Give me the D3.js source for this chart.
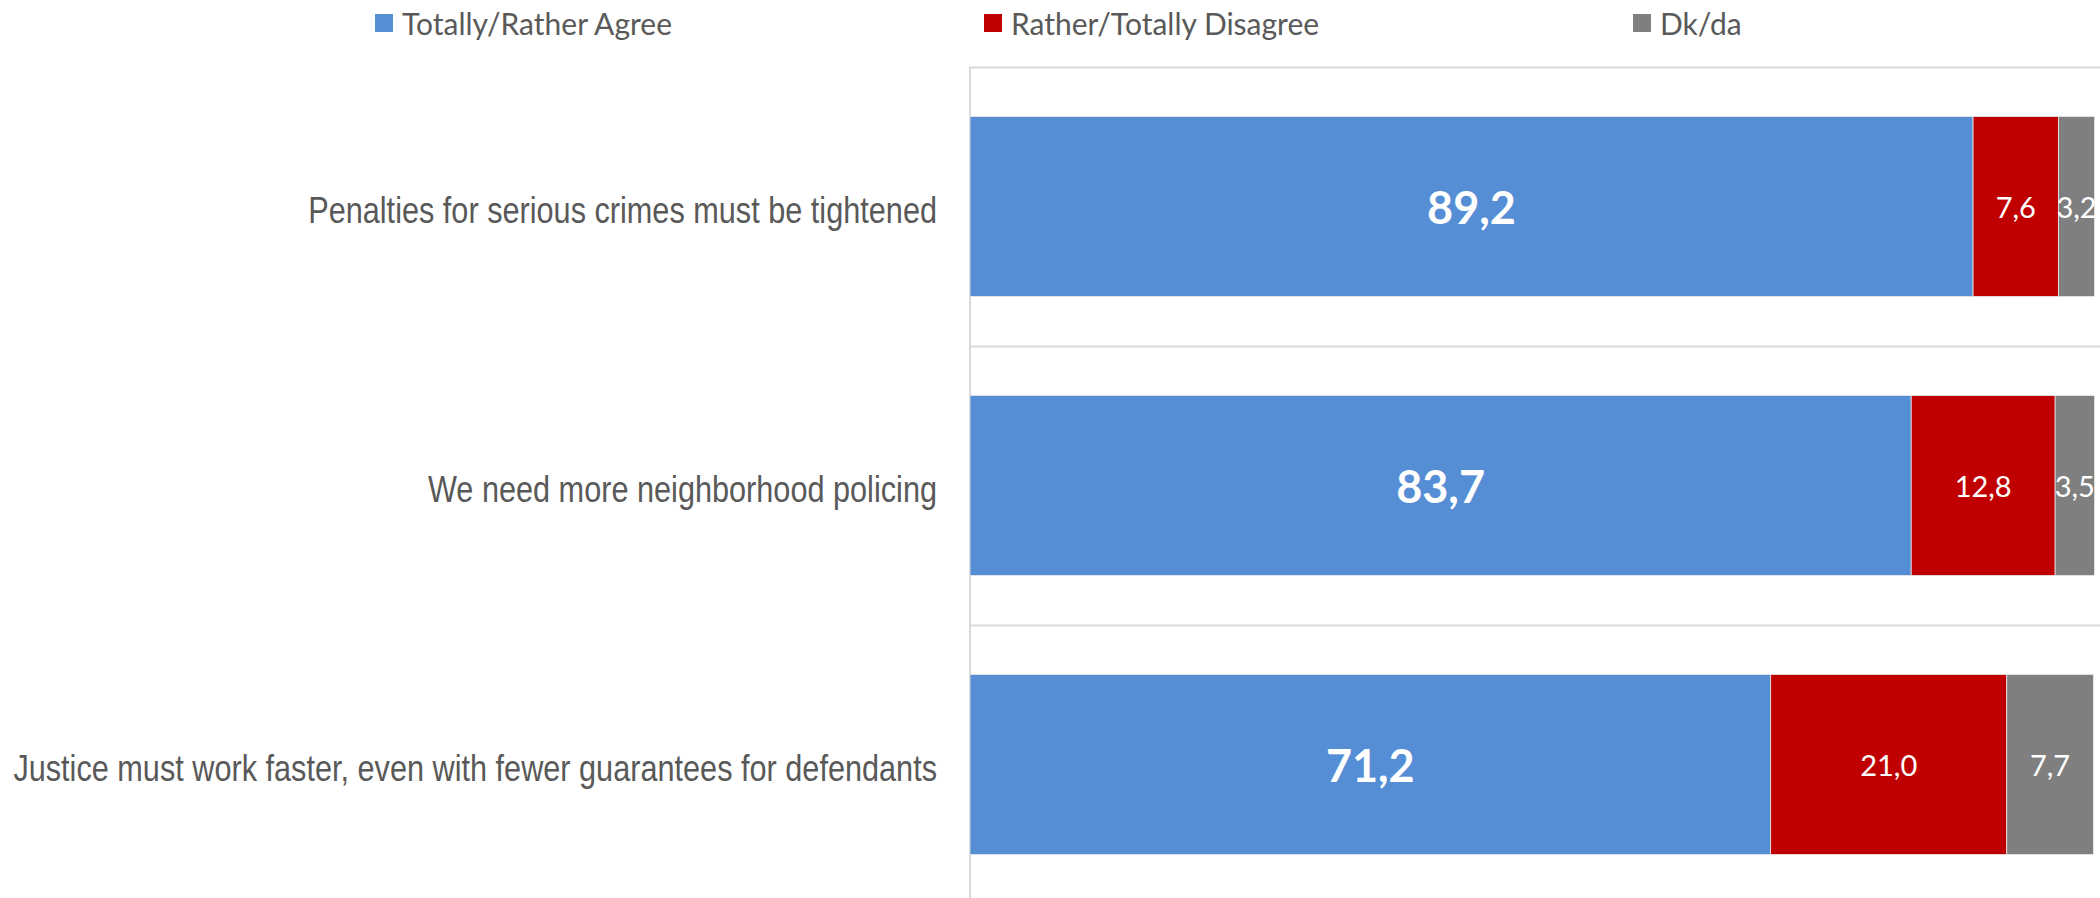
<!DOCTYPE html>
<html>
<head>
<meta charset="utf-8">
<script src="https://cdn.jsdelivr.net/npm/d3@7"></script>
<style>
  html, body { margin: 0; padding: 0; background: #fff; }
  svg { display: block; }
</style>
</head>
<body>
<div id="chart"></div>
<script>
// data
const categories = [
    "Penalties for serious crimes must be tightened",
    "We need more neighborhood policing",
    "Justice must work faster, even with fewer guarantees for defendants"
];
const seriesNames = ["Totally/Rather Agree", "Rather/Totally Disagree", "Dk/da"];
const agree = [89.2, 83.7, 71.2];
const disagree = [7.6, 12.8, 21.0];
const dkda = [3.2, 3.5, 7.7];

const colors = ["#558ED5", "#C00000", "#7F7F7F"];

const width = 2100, height = 898;
const plot = { left: 970, right: 2094.5, top: 67, bottom: 904 };

let svg = d3.select("#chart").append("svg")
    .attr("width", width).attr("height", height);

let rows = categories.map((c, i) => ({
    cat: c,
    [seriesNames[0]]: agree[i],
    [seriesNames[1]]: disagree[i],
    [seriesNames[2]]: dkda[i]
}));
let stacked = d3.stack().keys(seriesNames)(rows);

let x = d3.scaleLinear().domain([0, 100]).range([plot.left, plot.right]);
let y = d3.scaleBand().domain(categories)
    .range([plot.top, plot.bottom])
    .paddingInner(0.355).paddingOuter(0.1775);

// gridlines at the category boundaries
let step = y.step();
let bounds = d3.range(categories.length + 1).map(i => plot.top + i * step);
svg.append("g").selectAll("line").data(bounds).join("line")
    .attr("x1", plot.left).attr("x2", width)
    .attr("y1", d => d + 0.5).attr("y2", d => d + 0.5)
    .attr("stroke", "#d9d9d9").attr("stroke-width", 2);

// category axis line
svg.append("line")
    .attr("x1", plot.left).attr("x2", plot.left)
    .attr("y1", plot.top).attr("y2", height)
    .attr("stroke", "#d9d9d9").attr("stroke-width", 2);

// bars
let layers = svg.append("g").selectAll("g").data(stacked).join("g")
    .attr("fill", (d, i) => colors[i]);
layers.selectAll("rect").data(d => d).join("rect")
    .attr("x", d => x(d[0]))
    .attr("y", d => y(d.data.cat))
    .attr("width", d => x(d[1]) - x(d[0]))
    .attr("height", y.bandwidth())
    .attr("stroke", "#e8e8e8").attr("stroke-width", 0.8);

// value labels
let fmt = v => v.toFixed(1).replace(".", ",");
stacked.forEach((layer, li) => {
    svg.append("g").selectAll("text").data(layer).join("text")
        .attr("x", d => (x(d[0]) + x(d[1])) / 2)
        .attr("y", d => y(d.data.cat) + y.bandwidth() / 2)
        .attr("text-anchor", "middle")
        .attr("dominant-baseline", "central")
        .attr("fill", "#fff")
        .style("font-family", "Lato, 'Open Sans', sans-serif")
        .style("font-size", li === 0 ? "45px" : "29px")
        .style("font-weight", li === 0 ? "bold" : "normal")
        .text(d => fmt(d[1] - d[0]));
});

// category labels: narrow look made by squeezing Liberation Sans
let labelRight = plot.left - 33;
let catLabels = svg.append("g").selectAll("text").data(categories).join("text")
    .attr("text-anchor", "end")
    .attr("dominant-baseline", "central")
    .attr("fill", "#595959")
    .style("font-family", "'Liberation Sans', Arial, sans-serif")
    .style("font-size", "37px")
    .text(d => d);
let longest = d3.max(catLabels.nodes(), n => n.getComputedTextLength());
let squeeze = (labelRight - 13) / longest;
catLabels.attr("transform", d =>
    `translate(${labelRight},${y(d) + y.bandwidth() / 2 + 3}) scale(${squeeze},1)`);

// legend
let legendX = [375, 984, 1633];
let legend = svg.append("g").selectAll("g").data(seriesNames).join("g")
    .attr("transform", (d, i) => `translate(${legendX[i]},14)`);
legend.append("rect")
    .attr("width", 18).attr("height", 18)
    .attr("fill", (d, i) => colors[i]);
legend.append("text")
    .attr("x", 27).attr("y", 9)
    .attr("dominant-baseline", "central")
    .attr("fill", "#595959")
    .style("font-family", "Lato, 'Open Sans', sans-serif")
    .style("font-size", "30px")
    .text(d => d);
</script>
</body>
</html>
